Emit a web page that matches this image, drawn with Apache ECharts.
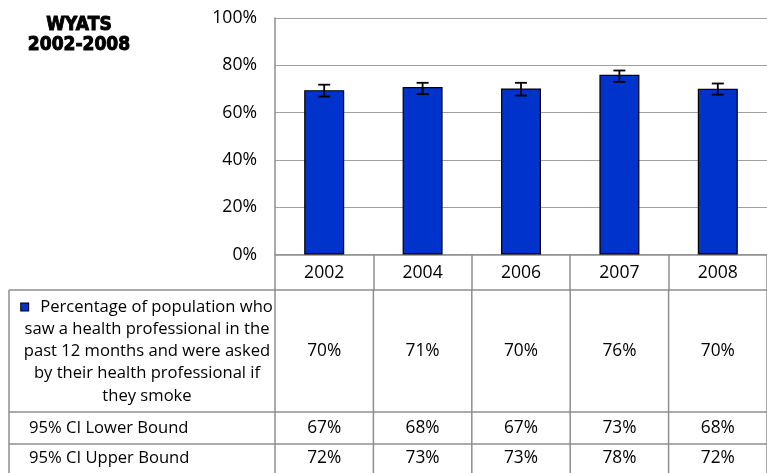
<!DOCTYPE html>
<html>
<head>
<meta charset="utf-8">
<script src="https://cdn.jsdelivr.net/npm/echarts@6/dist/echarts.min.js"></script>
<style>
html,body{margin:0;padding:0;background:#fff;}
#c{width:767px;height:473px;}
</style>
</head>
<body>
<div id="c"></div>
<script>
// ---- data ----
const categories = ['2002', '2004', '2006', '2007', '2008'];
const values = [69.5, 70.8, 70.2, 76.0, 70.1];
const ciLower = [66.8, 67.8, 67.2, 73.0, 67.6];
const ciUpper = [71.8, 72.6, 72.6, 77.8, 72.3];
const seriesLabelLines = [
  'Percentage of population who',
  'saw a health professional in the',
  'past 12 months and were asked',
  'by their health professional if',
  'they smoke'
];
const rowLabels = ['95% CI Lower Bound', '95% CI Upper Bound'];
const titleLines = ['WYATS', '2002-2008'];

// ---- styles ----
const FONT = 'Open Sans';
const FS_TXT = 16.6;
const FS_NUM = 17.3;
const GRID_COL = '#a0a0a0';
const TAB_COL = '#8e8e8e';
const BAR_COL = '#0033cc';

const chart = echarts.init(document.getElementById('c'), null, {renderer: 'canvas'});
const fmt = v => Math.round(v) + '%';

chart.setOption({
  animation: false,
  backgroundColor: '#fff',
  grid: {left: 275, top: 18, width: 498, height: 236.5},
  xAxis: {
    type: 'category',
    data: categories,
    axisLine: {show: true, lineStyle: {color: TAB_COL, width: 1.5}},
    axisTick: {show: true, length: 36, alignWithLabel: false, lineStyle: {color: TAB_COL, width: 1.5}},
    axisLabel: {fontFamily: FONT, fontSize: 17.6, color: '#000', margin: 18, verticalAlign: 'middle'}
  },
  yAxis: {
    type: 'value', min: 0, max: 100, interval: 20,
    axisLine: {show: true, lineStyle: {color: TAB_COL, width: 1.5}},
    axisTick: {show: false},
    axisLabel: {fontFamily: FONT, fontSize: 17.6, color: '#000', margin: 18, formatter: '{value}%'},
    splitLine: {show: true, lineStyle: {color: GRID_COL, width: 1.2}}
  },
  series: [
    {
      type: 'bar',
      data: values,
      barWidth: 40,
      itemStyle: {color: BAR_COL, borderColor: '#000', borderWidth: 1.2}
    },
    {
      type: 'custom',
      data: categories.map((c, i) => [i, ciLower[i], ciUpper[i]]),
      encode: {x: 0, y: [1, 2]},
      z: 10,
      renderItem: function (params, api) {
        const x = api.value(0);
        const lo = api.coord([x, api.value(1)]);
        const hi = api.coord([x, api.value(2)]);
        const hw = 6;
        const st = {stroke: '#000', lineWidth: 1.8};
        return {
          type: 'group',
          children: [
            {type: 'line', shape: {x1: lo[0], y1: lo[1], x2: hi[0], y2: hi[1]}, style: st},
            {type: 'line', shape: {x1: lo[0] - hw, y1: lo[1], x2: lo[0] + hw, y2: lo[1]}, style: st},
            {type: 'line', shape: {x1: hi[0] - hw, y1: hi[1], x2: hi[0] + hw, y2: hi[1]}, style: st}
          ]
        };
      }
    }
  ]
});

// ---- data table under the chart ----
const c0 = chart.convertToPixel({xAxisIndex: 0}, 0);
const c1 = chart.convertToPixel({xAxisIndex: 0}, 1);
const band = c1 - c0;
const leftX = c0 - band / 2;
const tableLeft = 9;
const rowTop = 290, row1Bot = 412, row2Bot = 444, row3Bot = 476;
const W = 767;
const lineSt = {stroke: TAB_COL, lineWidth: 1.5};
const g = [];

// title
g.push({
  type: 'text', x: 79, y: 35, scaleX: 0.9,
  style: {
    text: titleLines.join('\n'), align: 'center', verticalAlign: 'middle',
    fontFamily: 'DejaVu Sans', fontWeight: 'bold', fontSize: 19, lineHeight: 20,
    fill: '#000', stroke: '#000', lineWidth: 1
  }
});

// horizontal rules
[rowTop, row1Bot, row2Bot, row3Bot].forEach(y => {
  g.push({type: 'line', shape: {x1: tableLeft, y1: y, x2: W + 10, y2: y}, style: lineSt});
});
// vertical rules
g.push({type: 'line', shape: {x1: tableLeft, y1: rowTop, x2: tableLeft, y2: row3Bot}, style: lineSt});
for (let i = 0; i <= categories.length; i++) {
  const x = leftX + i * band;
  g.push({type: 'line', shape: {x1: x, y1: rowTop - 1, x2: x, y2: row3Bot}, style: lineSt});
}

// series label cell (with legend key)
g.push({
  type: 'text', x: 147, y: (rowTop + row1Bot) / 2 + 0.5,
  style: {
    text: seriesLabelLines.map((l, i) => (i === 0 ? '{sq|}{gap|}' : '') + '{t|' + l + '}').join('\n'),
    align: 'center', verticalAlign: 'middle',
    rich: {
      t: {fontFamily: FONT, fontSize: FS_TXT, lineHeight: 22.2, fill: '#000', color: '#000'},
      sq: {width: 7, height: 7, backgroundColor: BAR_COL, borderColor: '#000', borderWidth: 1},
      gap: {width: 12, height: 7}
    }
  }
});
rowLabels.forEach((lab, r) => {
  const yc = r === 0 ? (row1Bot + row2Bot) / 2 : (row2Bot + row3Bot) / 2 - 1.5;
  g.push({
    type: 'text', x: 29, y: yc,
    style: {text: lab, align: 'left', verticalAlign: 'middle', fontFamily: FONT, fontSize: FS_TXT, fill: '#000'}
  });
});

// values
const rows = [values, ciLower, ciUpper];
const rowCenters = [(rowTop + row1Bot) / 2, (row1Bot + row2Bot) / 2, (row2Bot + row3Bot) / 2 - 1.5];
rows.forEach((arr, r) => {
  arr.forEach((v, i) => {
    const x = chart.convertToPixel({xAxisIndex: 0}, i);
    g.push({
      type: 'text', x: x, y: rowCenters[r],
      style: {text: fmt(v), align: 'center', verticalAlign: 'middle', fontFamily: FONT, fontSize: FS_NUM, fill: '#000'}
    });
  });
});

chart.setOption({graphic: g});
</script>
</body>
</html>
